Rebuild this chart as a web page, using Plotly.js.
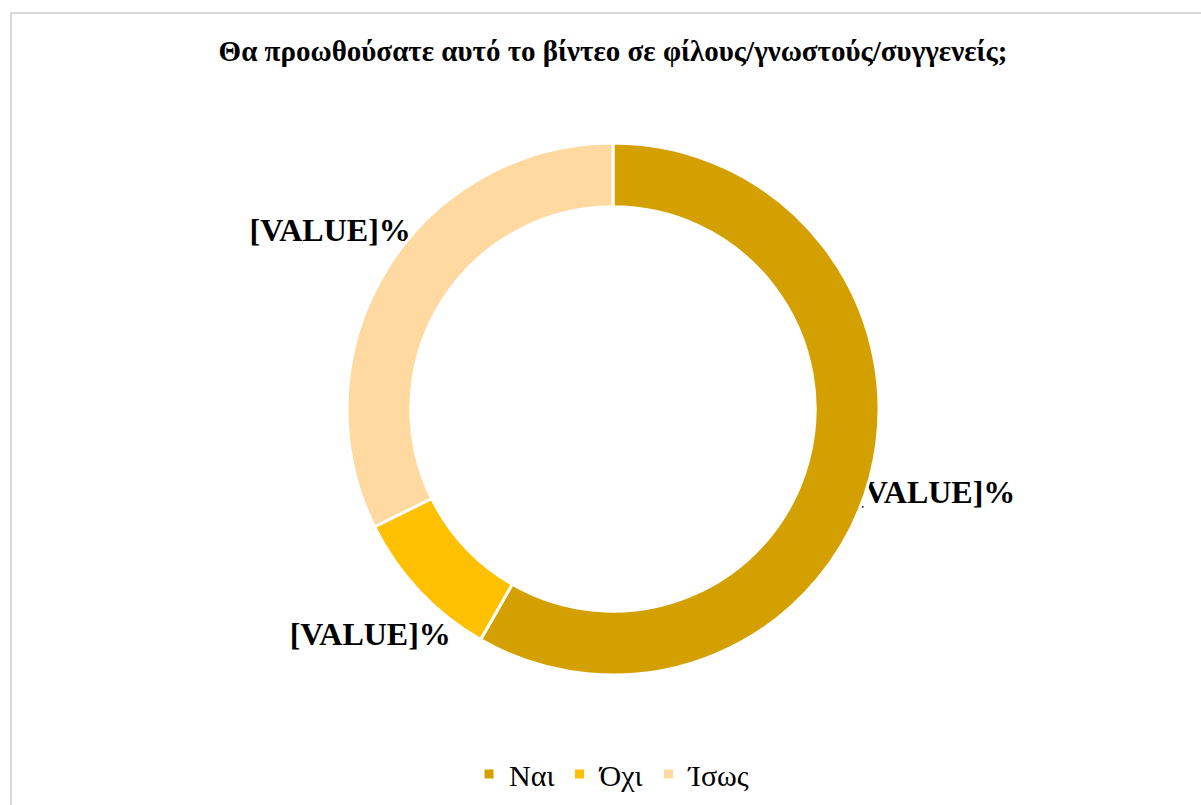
<!DOCTYPE html>
<html>
<head>
<meta charset="utf-8">
<script src="https://cdn.plot.ly/plotly-3.0.1.min.js"></script>
<style>
  html, body { margin: 0; padding: 0; background: #ffffff; }
  #frame { position: absolute; left: 10px; top: 12px; width: 1200px; height: 800px;
           border-left: 2px solid #d9d9d9; border-top: 2px solid #d9d9d9; box-sizing: border-box; }
  #chart { position: absolute; left: 0; top: 0; width: 1201px; height: 805px; }
</style>
</head>
<body>
<div id="frame"></div>
<div id="chart"></div>
<script>
// Data
const categories = ['Ναι', 'Όχι', 'Ίσως'];
const values = [58.3, 9.4, 32.3];
const labelTexts = ['[VALUE]%', '[VALUE]%', '[VALUE]%'];
const colors = ['#D4A000', '#FFC000', '#FFD9A0'];
const chartTitle = 'Θα προωθούσατε αυτό το βίντεο σε φίλους/γνωστούς/συγγενείς;';

const SERIF = 'Liberation Serif';
const W = 1201, H = 805;
const cx = 613, cy = 409, R = 266;      // donut centre / outer radius (px)
const LR = 360, LABEL_R = 333;          // label polar frame radius / label radius (px)

// Mid-angle of every slice (degrees, clockwise from 12 o'clock), derived from the values
const total = values.reduce((a, b) => a + b, 0);
const midAngles = [];
let acc = 0;
values.forEach(v => { midAngles.push((acc + v / 2) / total * 360); acc += v; });

const pieTrace = {
  type: 'pie',
  labels: categories,
  values: values,
  textinfo: 'none',
  hole: 0.76,
  sort: false,
  direction: 'clockwise',
  rotation: 0,
  marker: { colors: colors, line: { color: '#ffffff', width: 3 } },
  domain: {
    x: [(cx - R) / W, (cx + R) / W],
    y: [(H - cy - R) / H, (H - cy + R) / H]
  },
  hoverinfo: 'label+value'
};

const labelTrace = {
  type: 'scatterpolar',
  mode: 'text',
  r: categories.map(() => LABEL_R),
  theta: midAngles,
  text: labelTexts,
  textposition: 'middle center',
  textfont: { family: SERIF, size: 32, color: '#000000', weight: 'bold' },
  showlegend: false,
  hoverinfo: 'skip',
  cliponaxis: false
};

const layout = {
  width: W,
  height: H,
  margin: { l: 0, r: 0, t: 0, b: 0 },
  paper_bgcolor: 'rgba(0,0,0,0)',
  plot_bgcolor: 'rgba(0,0,0,0)',
  font: { family: SERIF },
  polar: {
    domain: {
      x: [(cx - LR) / W, (cx + LR) / W],
      y: [(H - cy - LR) / H, (H - cy + LR) / H]
    },
    bgcolor: 'rgba(0,0,0,0)',
    radialaxis: { range: [0, LR], visible: false, showgrid: false },
    angularaxis: { rotation: 90, direction: 'clockwise', thetaunit: 'degrees',
                   visible: false, showgrid: false, showline: false, ticks: '' }
  },
  title: {
    text: '<b>' + chartTitle + '</b>',
    x: 613 / W, xanchor: 'center',
    y: 1 - 51 / H, yanchor: 'middle',
    xref: 'paper', yref: 'paper',
    font: { family: SERIF, size: 29, color: '#000000' }
  },
  showlegend: true,
  legend: {
    orientation: 'h',
    x: 0.510, xanchor: 'center',
    y: 1 - 774 / H, yanchor: 'middle',
    font: { family: SERIF, size: 30, color: '#000000' },
    traceorder: 'normal'
  }
};

Plotly.newPlot('chart', [pieTrace, labelTrace], layout, { displayModeBar: false, staticPlot: true });
</script>
</body>
</html>
